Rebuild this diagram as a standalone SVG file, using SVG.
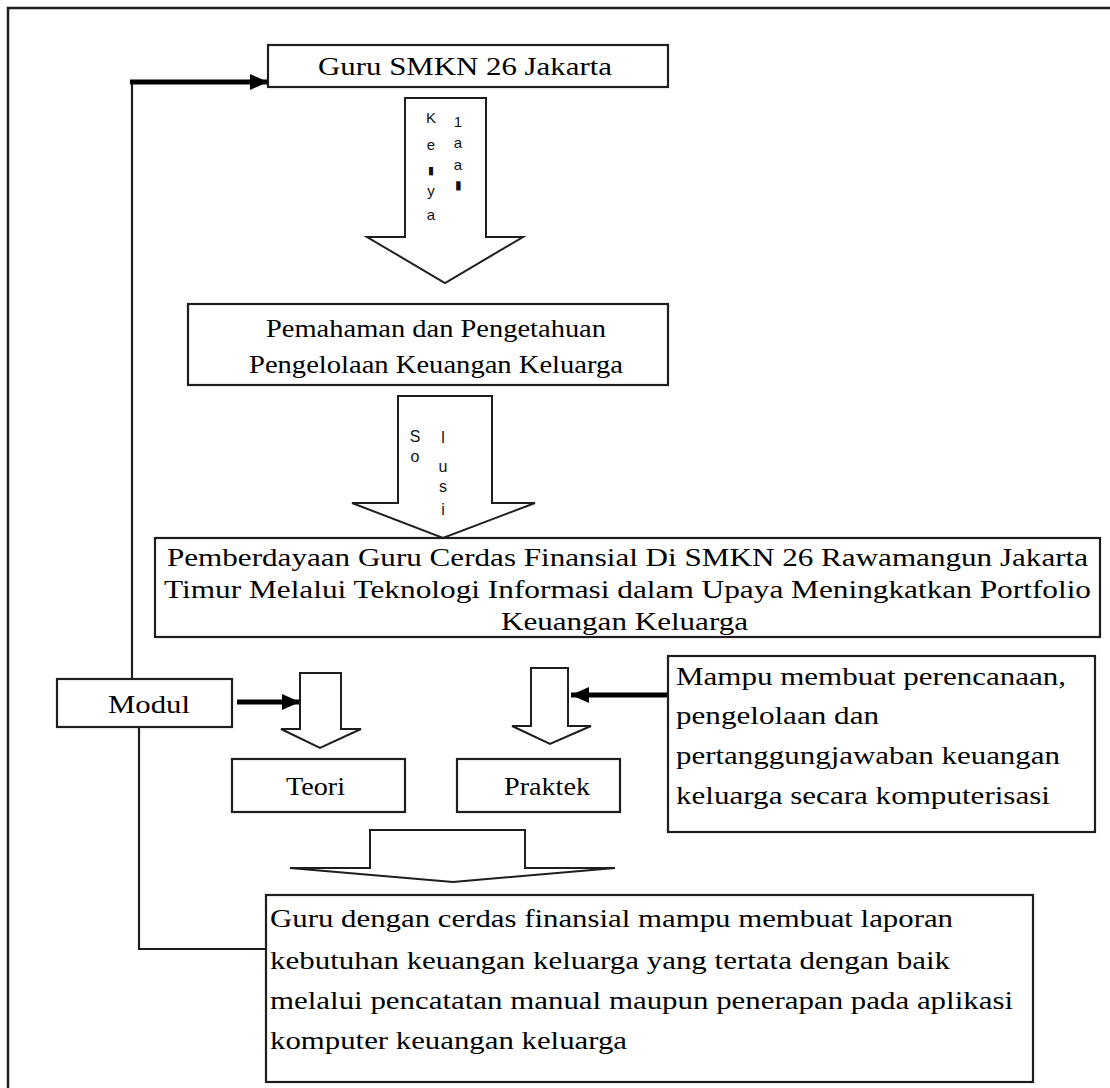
<svg xmlns="http://www.w3.org/2000/svg" width="1110" height="1088" viewBox="0 0 1110 1088">
<defs>
<style>
.box{fill:#fff;stroke:#1e1e1e;stroke-width:2.2}
.blk{fill:#fff;stroke:#1e1e1e;stroke-width:2}
.t{font-family:"Liberation Serif","Times New Roman",serif;font-size:26px;fill:#000}
.s{font-family:"Liberation Sans",Arial,sans-serif;font-size:15px;fill:#111;text-anchor:middle}
.ln{fill:none;stroke:#1e1e1e;stroke-width:2.2}
.thick{fill:none;stroke:#000;stroke-width:5}
</style>
<marker id="ah" markerUnits="userSpaceOnUse" markerWidth="18" markerHeight="18" refX="18" refY="9" viewBox="0 0 18 18" orient="auto">
<path d="M0,1 L18,9 L0,17 z" fill="#000"/>
</marker>
</defs>
<rect width="1110" height="1088" fill="#fff"/>
<path d="M8,1088 V8 H1110" fill="none" stroke="#1e1e1e" stroke-width="2.5"/>

<g id="connectors">
<path class="ln" d="M132,679 V82"/>
<path class="thick" d="M130,82 H268" marker-end="url(#ah)"/>
<path class="ln" d="M139,728 V949 H267"/>
<path class="thick" d="M237,702 H300" marker-end="url(#ah)"/>
<path class="thick" d="M668,695 H571" marker-end="url(#ah)"/>
<path class="blk" d="M405,98 H486 V237 H523 L445,283 L367,237 H405 Z"/>
<path class="blk" d="M398,396 H492 V503 H535 L443,538 L352,503 H398 Z"/>
<path class="blk" d="M300,673 H341 V729 H361 L320,748 L281,729 H300 Z"/>
<path class="blk" d="M531,668 H568 V726 H591 L550,744 L512,726 H531 Z"/>
<path class="blk" d="M370,830 H525 V868 H615 L453,882 L290,868 H370 Z"/>
<g class="s">
<text x="431" y="123">K</text>
<text x="431" y="150">e</text>
<text x="431" y="174" font-size="11">▮</text>
<text x="431" y="196">y</text>
<text x="431" y="220">a</text>
<text x="458" y="127">1</text>
<text x="458" y="148">a</text>
<text x="458" y="170">a</text>
<text x="458" y="189" font-size="12">▮</text>
</g>
<g class="s" font-size="16">
<text x="415" y="442" font-size="16">S</text>
<text x="415" y="462" font-size="16">o</text>
<text x="443" y="443" font-size="16">l</text>
<text x="443" y="472" font-size="16">u</text>
<text x="443" y="492" font-size="16">s</text>
<text x="443" y="515" font-size="16">i</text>
</g>
</g>

<g id="guru">
<rect class="box" x="268" y="45" width="400" height="42"/>
<text class="t" x="318" y="75" textLength="294" lengthAdjust="spacingAndGlyphs">Guru SMKN 26 Jakarta</text>
</g>

<g id="pemahaman">
<rect class="box" x="188" y="304" width="480" height="81"/>
<text class="t" x="266" y="337" textLength="340" lengthAdjust="spacingAndGlyphs">Pemahaman dan Pengetahuan</text>
<text class="t" x="249" y="373" textLength="374" lengthAdjust="spacingAndGlyphs">Pengelolaan Keuangan Keluarga</text>
</g>

<g id="pemberdayaan">
<rect class="box" x="155" y="538" width="945" height="99"/>
<text class="t" x="167" y="566" textLength="921" lengthAdjust="spacingAndGlyphs">Pemberdayaan Guru Cerdas Finansial Di SMKN 26 Rawamangun Jakarta</text>
<text class="t" x="164" y="598" textLength="927" lengthAdjust="spacingAndGlyphs">Timur Melalui Teknologi Informasi dalam Upaya Meningkatkan Portfolio</text>
<text class="t" x="501" y="630" textLength="247" lengthAdjust="spacingAndGlyphs">Keuangan Keluarga</text>
</g>

<g id="modul">
<rect class="box" x="57" y="679" width="175" height="48"/>
<text class="t" x="108" y="713" textLength="82" lengthAdjust="spacingAndGlyphs">Modul</text>
</g>

<g id="teori">
<rect class="box" x="232" y="759" width="173" height="53"/>
<text class="t" x="286" y="795" textLength="59" lengthAdjust="spacingAndGlyphs">Teori</text>
</g>

<g id="praktek">
<rect class="box" x="457" y="759" width="163" height="53"/>
<text class="t" x="504" y="795" textLength="86" lengthAdjust="spacingAndGlyphs">Praktek</text>
</g>

<g id="mampu">
<rect class="box" x="668" y="656" width="427" height="176"/>
<text class="t" x="676" y="685" textLength="390" lengthAdjust="spacingAndGlyphs">Mampu membuat perencanaan,</text>
<text class="t" x="676" y="724" textLength="203" lengthAdjust="spacingAndGlyphs">pengelolaan dan</text>
<text class="t" x="676" y="764" textLength="384" lengthAdjust="spacingAndGlyphs">pertanggungjawaban keuangan</text>
<text class="t" x="676" y="804" textLength="374" lengthAdjust="spacingAndGlyphs">keluarga secara komputerisasi</text>
</g>

<g id="hasil">
<rect class="box" x="266" y="895" width="767" height="187"/>
<text class="t" x="270" y="927" textLength="683" lengthAdjust="spacingAndGlyphs">Guru dengan cerdas finansial mampu membuat laporan</text>
<text class="t" x="270" y="969" textLength="680" lengthAdjust="spacingAndGlyphs">kebutuhan keuangan keluarga yang tertata dengan baik</text>
<text class="t" x="270" y="1009" textLength="743" lengthAdjust="spacingAndGlyphs">melalui pencatatan manual maupun penerapan pada aplikasi</text>
<text class="t" x="270" y="1049" textLength="357" lengthAdjust="spacingAndGlyphs">komputer keuangan keluarga</text>
</g>
</svg>
